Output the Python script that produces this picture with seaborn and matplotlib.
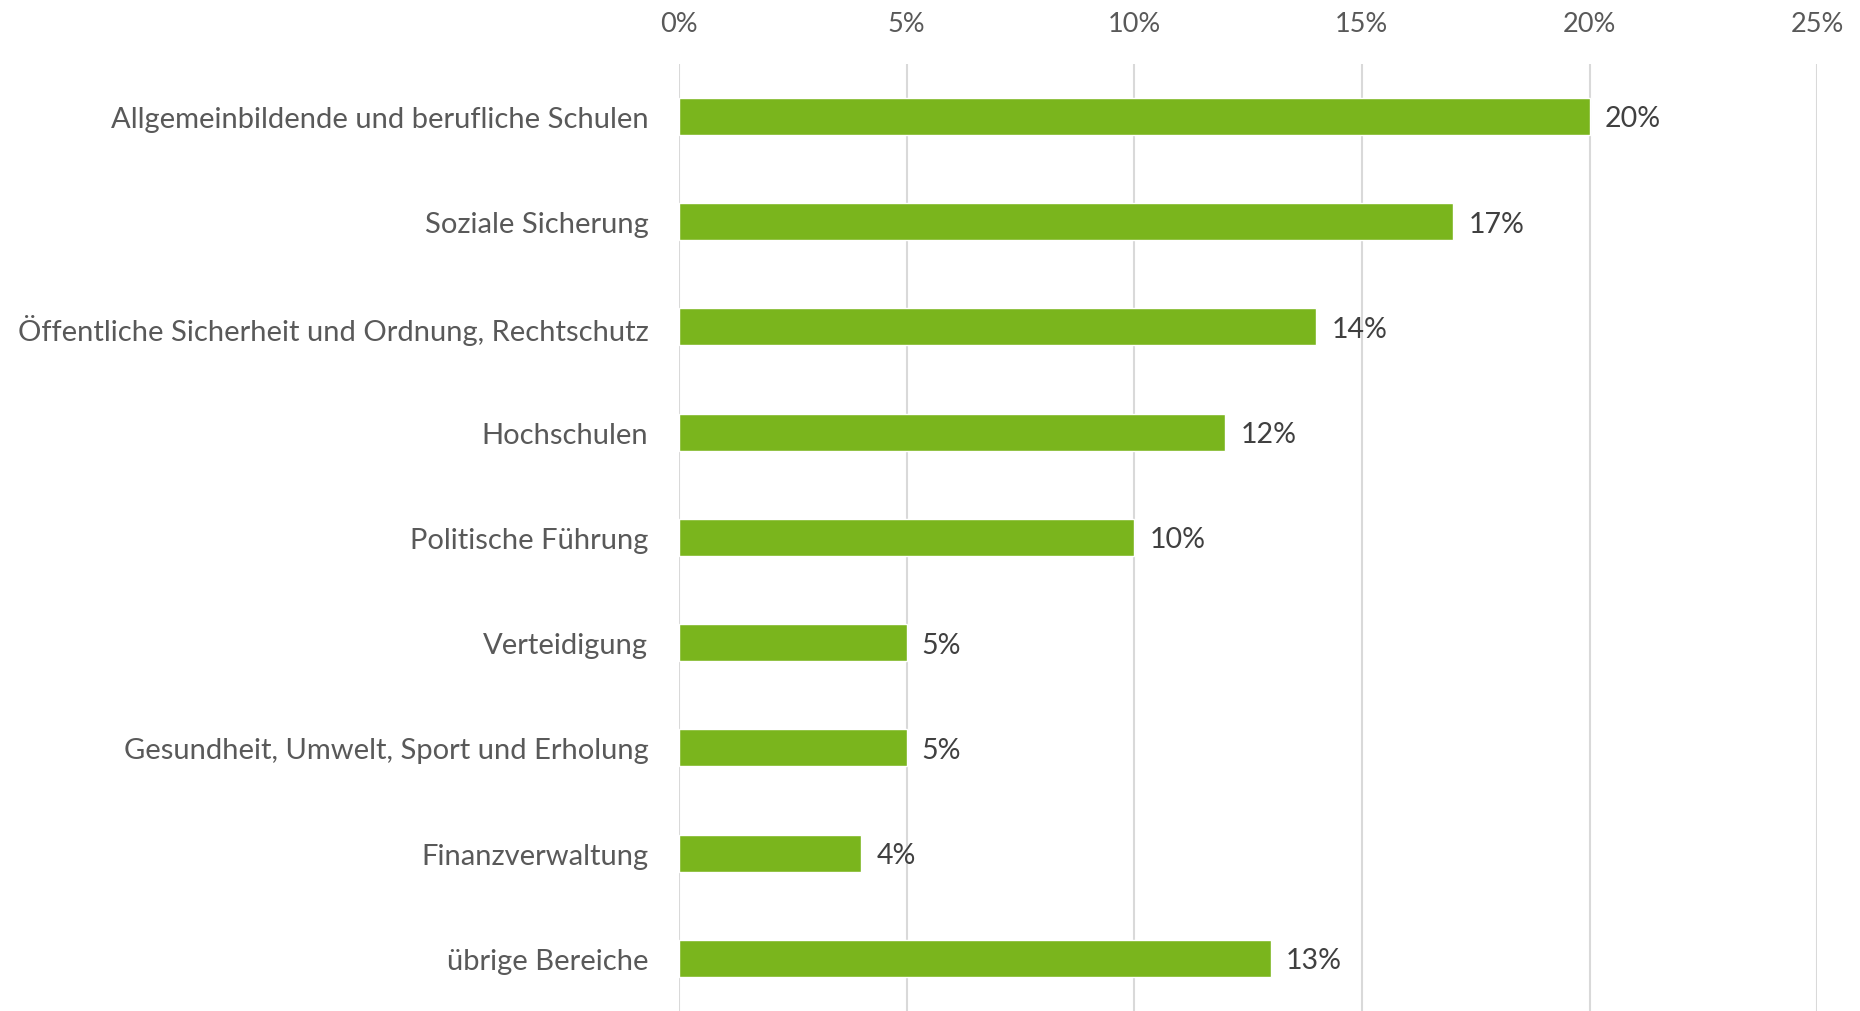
import matplotlib
matplotlib.use("Agg")
import matplotlib.pyplot as plt
import seaborn as sns
import pandas as pd
from matplotlib.ticker import FuncFormatter

# Anteile der Ausgaben nach Bereichen (in %)
categories = [
    "Allgemeinbildende und berufliche Schulen",
    "Soziale Sicherung",
    "Öffentliche Sicherheit und Ordnung, Rechtschutz",
    "Hochschulen",
    "Politische Führung",
    "Verteidigung",
    "Gesundheit, Umwelt, Sport und Erholung",
    "Finanzverwaltung",
    "übrige Bereiche",
]
values = [20, 17, 14, 12, 10, 5, 5, 4, 13]
x_ticks = [0, 5, 10, 15, 20, 25]

BAR_COLOR = "#7AB51D"
GRID_COLOR = "#D9D9D9"
TEXT_COLOR = "#595959"
LABEL_COLOR = "#404040"

df = pd.DataFrame({"Bereich": categories, "Anteil": values})

sns.set_theme(style="white")
plt.rcParams["font.family"] = ["Lato", "DejaVu Sans"]

fig = plt.figure(figsize=(18.6, 10.12), dpi=100)
ax = fig.add_axes([0.365, 0.0, 0.977 - 0.365, 0.936])

sns.barplot(data=df, x="Anteil", y="Bereich", orient="h", color=BAR_COLOR,
            width=0.35, saturation=1, ax=ax, zorder=3)

ax.set_xlim(0, 25)
ax.set_xticks(x_ticks)
ax.xaxis.set_major_formatter(FuncFormatter(lambda v, _: f"{v:.0f}%"))
ax.xaxis.tick_top()
ax.grid(axis="x", color=GRID_COLOR, linewidth=1.5, zorder=0)
ax.grid(axis="y", visible=False)
ax.tick_params(axis="x", length=0, pad=20, labelsize=19.5, labelcolor=TEXT_COLOR)
ax.tick_params(axis="y", length=0, pad=22, labelsize=21, labelcolor=TEXT_COLOR)
ax.set_xlabel("")
ax.set_ylabel("")
for s in ax.spines.values():
    s.set_visible(False)

# Wertbeschriftungen
for cont in ax.containers:
    texts = ax.bar_label(cont, labels=[f"{v}%" for v in values], padding=11,
                         fontsize=20.5, color=LABEL_COLOR)
    for t in texts:
        t.set_verticalalignment("center")
        t.set_y(-1.5)

fig.savefig("out.png", dpi=100)
